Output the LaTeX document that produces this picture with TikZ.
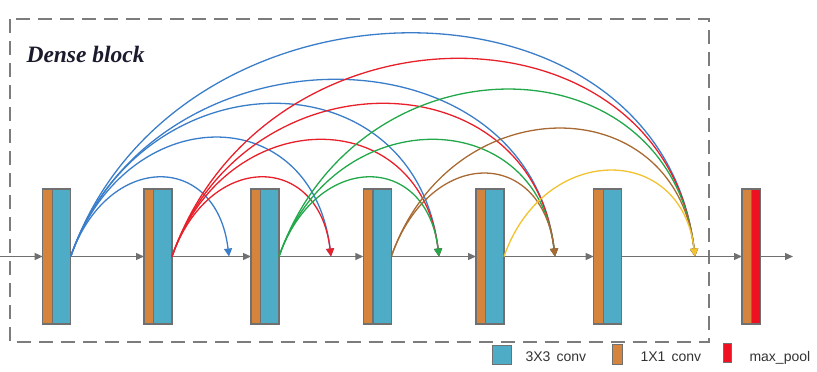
\documentclass[tikz,border=0pt]{standalone}
\usepackage{fontspec}
\setmainfont{Liberation Serif}
\setsansfont{Liberation Sans}
\usetikzlibrary{arrows.meta}
\definecolor{cgray}{HTML}{707070}
\definecolor{dgray}{HTML}{7C7C7C}
\definecolor{corange}{HTML}{D5843E}
\definecolor{cblue}{HTML}{4FACC6}
\definecolor{cpool}{HTML}{EE1122}
\definecolor{arcblue}{HTML}{3A7DC9}
\definecolor{arcred}{HTML}{E8202A}
\definecolor{arcgreen}{HTML}{22A84A}
\definecolor{arcbrown}{HTML}{A86A32}
\definecolor{arcyellow}{HTML}{F2C230}
\definecolor{ctext}{HTML}{333333}
\begin{document}
\begin{tikzpicture}[x=1pt,y=-1pt,
  part/.style={draw=cgray, line width=1.3pt, minimum height=135pt, inner sep=0pt, outer sep=0pt},
  opart/.style={part, fill=corange, minimum width=9.6pt, anchor=west},
  bpart/.style={part, fill=cblue, minimum width=18.4pt, anchor=west},
  ppart/.style={part, fill=cpool, minimum width=9pt, anchor=west},
  mainline/.style={draw=cgray, line width=1.3pt, -{Triangle[length=8pt,width=7pt]}},
  arcline/.style={line width=1.3pt, -{Triangle[length=8pt,width=8pt]}},
  framebox/.style={draw=dgray, line width=1.8pt, dash pattern=on 14pt off 8pt},
  legtext/.style={anchor=base west, text=ctext, font=\sffamily\fontsize{14}{16}\selectfont},
  legbox/.style={draw=cgray, line width=1pt, inner sep=0pt}
]
\useasboundingbox (0,0) rectangle (817,372);

% dashed frame
\draw[framebox] (10,19) rectangle (709,342);
\node[anchor=base west, text={rgb,255:red,27;green,27;blue,46}, font=\bfseries\itshape\fontsize{23.5}{26}\selectfont] (title) at (23,62) {Dense block};

% blocks
\foreach \i/\x in {1/42.7, 2/144, 3/251, 4/363.3, 5/476, 6/593.7}{
  \node[opart] (o\i) at (\x,256.5) {};
  \node[bpart] (b\i) at (o\i.east) {};
}
\node[opart] (op) at (742,256.5) {};
\node[ppart] (pp) at (op.east) {};

% main line
\coordinate (in) at (0,256.5);
\coordinate (out) at (793,256.5);
\draw[mainline] (in) -- (o1.west);
\draw[mainline] (b1.east) -- (o2.west);
\draw[mainline] (b2.east) -- (o3.west);
\draw[mainline] (b3.east) -- (o4.west);
\draw[mainline] (b4.east) -- (o5.west);
\draw[mainline] (b5.east) -- (o6.west);
\draw[mainline] (b6.east) -- (op.west);
\draw[mainline] (pp.east) -- (out);

% arc targets
\coordinate (t1) at (229,256.5);
\coordinate (t2) at (331,256.5);
\coordinate (t3) at (439,256.5);
\coordinate (t4) at (555,256.5);
\coordinate (t5) at (695,256.5);

% dense connections
\foreach \s/\t/\k/\c in {
  b1/t1/105/arcblue, b1/t2/158/arcblue, b1/t3/203/arcblue, b1/t4/235/arcblue, b1/t5/297/arcblue,
  b2/t2/105/arcred, b2/t3/155/arcred, b2/t4/203/arcred, b2/t5/263/arcred,
  b3/t3/105/arcgreen, b3/t4/155/arcgreen, b3/t5/222/arcgreen,
  b4/t4/110/arcbrown, b4/t5/170/arcbrown,
  b5/t5/114/arcyellow}{
  \draw[arcline, draw=\c] (\s.east) .. controls +({0.35*\k},-\k) and +({-0.12*\k},-\k) .. (\t);
}

% legend
\node[legbox, fill=cblue, minimum width=19pt, minimum height=19pt] (l1) at (502,355) {};
\node[legtext] (l1t) at (522,361) {3X3\,\ conv};
\node[legbox, fill=corange, minimum width=10pt, minimum height=20pt] (l2) at (617,354) {};
\node[legtext] (l2t) at (637,361) {1X1\,\ conv};
\node[legbox, fill=cpool, minimum width=8pt, minimum height=19pt] (l3) at (727,352.5) {};
\node[legtext] (l3t) at (746,361) {max\_pool};
\end{tikzpicture}
\end{document}
